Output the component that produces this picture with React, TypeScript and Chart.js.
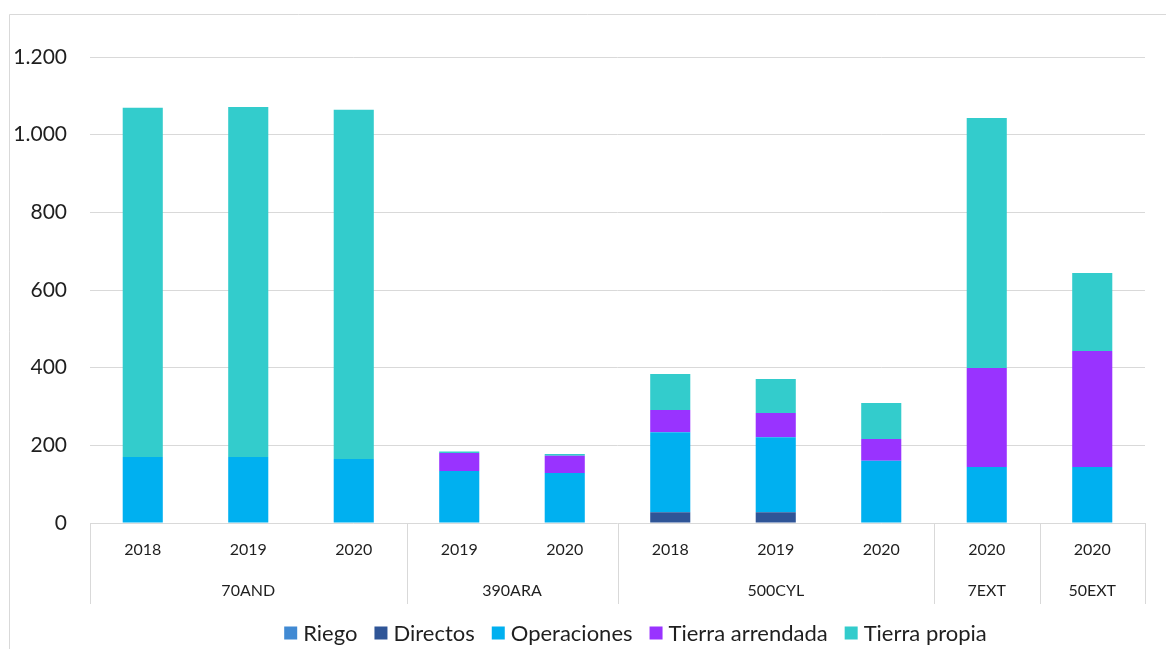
import React, { useEffect, useRef } from 'react';
import { Chart, registerables } from 'chart.js';

Chart.register(...registerables);

const years = ['2018', '2019', '2020', '2019', '2020', '2018', '2019', '2020', '2020', '2020'];
const groupLabels = ['70AND', '390ARA', '500CYL', '7EXT', '50EXT'];
const groupSizes = [3, 2, 3, 1, 1];

const seriesNames = ['Riego', 'Directos', 'Operaciones', 'Tierra arrendada', 'Tierra propia'];
const riego = [0, 0, 0, 0, 0, 0, 0, 0, 0, 0];
const directos = [0, 0, 0, 0, 0, 28, 28, 0, 0, 0];
const operaciones = [170, 170, 165, 134, 129, 206, 193, 160, 144, 144];
const tierraArrendada = [0, 0, 0, 46, 44, 57, 62, 56, 255, 299];
const tierraPropia = [899, 901, 899, 4, 5, 93, 88, 93, 644, 201];
const seriesColors = ['#418AD3', '#2F5597', '#00B0F0', '#9933FF', '#33CCCC'];

const FONT = 'Lato, "Open Sans", sans-serif';
const TEXT = '#1f1f1f';
const GRID = '#D9D9D9';

const fmt = (v: number) => String(v).replace(/\B(?=(\d{3})+(?!\d))/g, '.');

const decorPlugin = {
  id: 'decor',
  beforeDraw(chart: any) {
    const ctx = chart.ctx;
    ctx.save();
    ctx.fillStyle = '#ffffff';
    ctx.fillRect(0, 0, chart.width, chart.height);
    ctx.strokeStyle = GRID;
    ctx.lineWidth = 1;
    ctx.beginPath();
    ctx.moveTo(9.5, chart.height);
    ctx.lineTo(9.5, 14.5);
    ctx.lineTo(chart.width, 14.5);
    ctx.stroke();
    ctx.restore();
  },
  afterDraw(chart: any) {
    const ctx = chart.ctx;
    const x = chart.scales.x;
    const area = chart.chartArea;
    const step = x.getPixelForValue(1) - x.getPixelForValue(0);
    ctx.save();
    ctx.strokeStyle = GRID;
    ctx.lineWidth = 1;
    const boundaries: number[] = [x.getPixelForValue(0) - step / 2];
    let idx = 0;
    ctx.font = `16px ${FONT}`;
    ctx.fillStyle = TEXT;
    ctx.textAlign = 'center';
    ctx.textBaseline = 'middle';
    groupSizes.forEach((size, g) => {
      const start = idx;
      const end = idx + size - 1;
      const center = (x.getPixelForValue(start) + x.getPixelForValue(end)) / 2;
      ctx.fillText(groupLabels[g], center, area.bottom + 68);
      boundaries.push(x.getPixelForValue(end) + step / 2);
      idx += size;
    });
    ctx.beginPath();
    boundaries.forEach((b) => {
      const px = Math.round(b) + 0.5;
      ctx.moveTo(px, area.bottom);
      ctx.lineTo(px, area.bottom + 81);
    });
    ctx.stroke();

    // legend
    ctx.font = `22px ${FONT}`;
    const box = 13;
    const gapText = 6;
    const gapItem = 17;
    const widths = seriesNames.map((n) => ctx.measureText(n).width);
    const total = widths.reduce((a, w) => a + box + gapText + w, 0) + gapItem * (seriesNames.length - 1);
    let lx = 635.5 - total / 2;
    const ly = 633;
    ctx.textAlign = 'left';
    ctx.textBaseline = 'middle';
    seriesNames.forEach((n, i) => {
      ctx.fillStyle = seriesColors[i];
      ctx.fillRect(lx, ly - box / 2, box, box);
      ctx.fillStyle = TEXT;
      ctx.fillText(n, lx + box + gapText, ly + 1);
      lx += box + gapText + widths[i] + gapItem;
    });
    ctx.restore();
  },
};

export default function App() {
  const ref = useRef<HTMLCanvasElement | null>(null);
  useEffect(() => {
    if (!ref.current) return;
    const values = [riego, directos, operaciones, tierraArrendada, tierraPropia];
    const chart = new Chart(ref.current, {
      type: 'bar',
      data: {
        labels: years,
        datasets: seriesNames.map((name, i) => ({
          label: name,
          data: values[i],
          backgroundColor: seriesColors[i],
          borderWidth: 0,
          barPercentage: 0.38,
          categoryPercentage: 1,
        })),
      },
      options: {
        responsive: false,
        animation: false,
        devicePixelRatio: 1,
        layout: { padding: { left: 0, right: 21, top: 57, bottom: 0 } },
        plugins: { legend: { display: false }, tooltip: { enabled: false } },
        scales: {
          x: {
            stacked: true,
            grid: { display: false, drawTicks: false },
            border: { display: false },
            ticks: { color: TEXT, font: { family: FONT, size: 16 }, padding: 17, maxRotation: 0, autoSkip: false },
            afterFit: (s: any) => { s.height = 126; },
          },
          y: {
            stacked: true,
            min: 0,
            max: 1200,
            grid: { color: GRID, lineWidth: 1, drawTicks: false },
            border: { display: false },
            ticks: { stepSize: 200, color: TEXT, font: { family: FONT, size: 21 }, padding: 23, callback: (v: any) => fmt(Number(v)) },
            afterFit: (s: any) => { s.width = 90; },
          },
        },
      },
      plugins: [decorPlugin],
    });
    return () => chart.destroy();
  }, []);
  return (
    <div style={{ position: 'fixed', left: 0, top: 0, width: 1166, height: 649, background: '#fff' }}>
      <canvas ref={ref} width={1166} height={649} style={{ display: 'block', width: 1166, height: 649 }} />
    </div>
  );
}
